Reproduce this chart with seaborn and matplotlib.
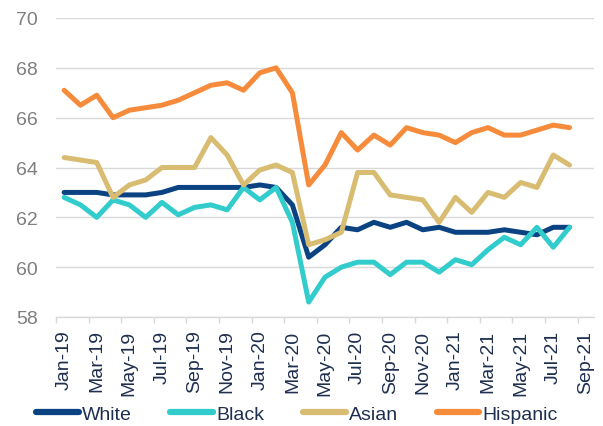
import numpy as np
import pandas as pd
import matplotlib
matplotlib.use("Agg")
import matplotlib.pyplot as plt
from matplotlib.lines import Line2D
import seaborn as sns

# ---- data ----
months = ["Jan-19", "Feb-19", "Mar-19", "Apr-19", "May-19", "Jun-19", "Jul-19", "Aug-19",
          "Sep-19", "Oct-19", "Nov-19", "Dec-19", "Jan-20", "Feb-20", "Mar-20", "Apr-20",
          "May-20", "Jun-20", "Jul-20", "Aug-20", "Sep-20", "Oct-20", "Nov-20", "Dec-20",
          "Jan-21", "Feb-21", "Mar-21", "Apr-21", "May-21", "Jun-21", "Jul-21", "Aug-21"]
tick_labels = ["Jan-19", "Mar-19", "May-19", "Jul-19", "Sep-19", "Nov-19", "Jan-20", "Mar-20",
               "May-20", "Jul-20", "Sep-20", "Nov-20", "Jan-21", "Mar-21", "May-21", "Jul-21",
               "Sep-21"]
white = [63.0, 63.0, 63.0, 62.9, 62.9, 62.9, 63.0, 63.2,
         63.2, 63.2, 63.2, 63.2, 63.3, 63.2, 62.5, 60.4,
         60.9, 61.6, 61.5, 61.8, 61.6, 61.8, 61.5, 61.6,
         61.4, 61.4, 61.4, 61.5, 61.4, 61.3, 61.6, 61.6]
black = [62.8, 62.5, 62.0, 62.7, 62.5, 62.0, 62.6, 62.1,
         62.4, 62.5, 62.3, 63.2, 62.7, 63.2, 61.8, 58.6,
         59.6, 60.0, 60.2, 60.2, 59.7, 60.2, 60.2, 59.8,
         60.3, 60.1, 60.7, 61.2, 60.9, 61.6, 60.8, 61.6]
asian = [64.4, 64.3, 64.2, 62.8, 63.3, 63.5, 64.0, 64.0,
         64.0, 65.2, 64.5, 63.3, 63.9, 64.1, 63.8, 60.9,
         61.1, 61.4, 63.8, 63.8, 62.9, 62.8, 62.7, 61.8,
         62.8, 62.2, 63.0, 62.8, 63.4, 63.2, 64.5, 64.1]
hispanic = [67.1, 66.5, 66.9, 66.0, 66.3, 66.4, 66.5, 66.7,
            67.0, 67.3, 67.4, 67.1, 67.8, 68.0, 67.0, 63.3,
            64.1, 65.4, 64.7, 65.3, 64.9, 65.6, 65.4, 65.3,
            65.0, 65.4, 65.6, 65.3, 65.3, 65.5, 65.7, 65.6]
series_names = ["White", "Black", "Asian", "Hispanic"]
colors = ["#0B4382", "#33CCCC", "#D8BC72", "#F68B3B"]

# ---- build long table ----
frames = []
for name, vals in zip(series_names, [white, black, asian, hispanic]):
    frames.append(pd.DataFrame({"idx": np.arange(len(months)), "month": months,
                                "value": vals, "group": name}))
df = pd.concat(frames, ignore_index=True)

sns.set_theme(style="white")
plt.rcParams["font.family"] = ["Liberation Sans", "DejaVu Sans"]

fig = plt.figure(figsize=(6.03, 4.27), dpi=100)
ax = fig.add_axes([56 / 603, 1 - 318 / 427, (594 - 56) / 603, (318 - 19) / 427])

sns.lineplot(data=df, x="idx", y="value", hue="group", hue_order=series_names,
             palette=colors, linewidth=3.6, legend=False, ax=ax, zorder=3)
for ln in ax.lines:
    ln.set_solid_capstyle("round")
    ln.set_solid_joinstyle("round")

ax.set_xlim(-0.5, len(tick_labels) * 2 - 1.5)
ax.set_ylim(58, 70)
ax.set_yticks(np.arange(58, 71, 2))
ax.grid(axis="y", color="#D9D9D9", linewidth=1.0, zorder=0)
ax.grid(axis="x", visible=False)
ax.set_xticks(np.arange(0, len(tick_labels) * 2, 2))
ax.set_xticklabels(tick_labels, rotation=90, color="#1F2F4F", fontsize=14)
ax.set_xticks(np.arange(-0.5, len(tick_labels) * 2 - 1, 2), minor=True)
ax.tick_params(axis="x", which="major", length=0, pad=9)
ax.tick_params(axis="x", which="minor", length=4, color="#D9D9D9", width=1, bottom=True)
ax.tick_params(axis="y", length=0, pad=13, labelsize=14, labelcolor="#7F7F7F")
ax.set_xlabel("")
ax.set_ylabel("")
for s in ["top", "right", "left"]:
    ax.spines[s].set_visible(False)
ax.spines["bottom"].set_color("#D9D9D9")
ax.spines["bottom"].set_linewidth(1.0)

handles = [Line2D([0], [0], color=c, linewidth=4.5, solid_capstyle="round") for c in colors]
fig.legend(handles, series_names, loc="center", bbox_to_anchor=(0.492, 0.028), ncol=4,
           frameon=False, fontsize=14, labelcolor="#1F2F4F", handlelength=2.2,
           handletextpad=0.15, columnspacing=2.0, borderpad=0, borderaxespad=0)

fig.savefig("out.png", dpi=100)
